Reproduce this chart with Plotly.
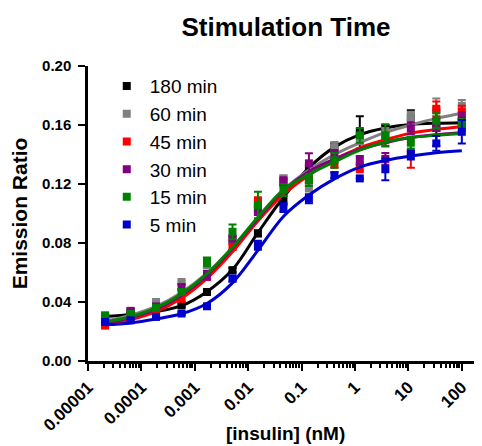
import plotly.graph_objects as go

# insulin concentrations (nM), 3-fold dilution series
conc = [0.0000209, 0.0000627, 0.000188, 0.000565, 0.00169, 0.00508, 0.0152,
        0.0457, 0.137, 0.412, 1.23, 3.70, 11.1, 33.3, 100]

# measured means / error (SEM) per stimulation time
pts_180 = [0.0300, 0.0335, 0.0340, 0.0378, 0.0468, 0.0616, 0.0865, 0.109,
           0.130, 0.145, 0.155, 0.158, 0.165, 0.158, 0.162]
err_180 = [0.001, 0.001, 0.001, 0.001, 0.001, 0.0015, 0.002, 0.003,
           0.003, 0.003, 0.011, 0.002, 0.005, 0.012, 0.003]
pts_60 = [0.028, 0.033, 0.040, 0.0536, 0.065, 0.082, 0.104, 0.1238,
          0.118, 0.145, 0.150, 0.155, 0.166, 0.170, 0.173]
err_60 = [0.001, 0.001, 0.001, 0.001, 0.002, 0.002, 0.003, 0.002,
          0.003, 0.0035, 0.003, 0.003, 0.003, 0.008, 0.004]
pts_45 = [0.024, 0.029, 0.035, 0.0423, 0.057, 0.0774, 0.108, 0.1215,
          0.124, 0.134, 0.131, 0.150, 0.141, 0.171, 0.169]
err_45 = [0.001, 0.001, 0.001, 0.002, 0.002, 0.002, 0.003, 0.002,
          0.003, 0.003, 0.003, 0.004, 0.010, 0.005, 0.004]
pts_30 = [0.027, 0.034, 0.037, 0.050, 0.0582, 0.083, 0.102, 0.1215,
          0.134, 0.140, 0.136, 0.137, 0.1577, 0.160, 0.1645]
err_30 = [0.001, 0.001, 0.001, 0.002, 0.003, 0.002, 0.003, 0.003,
          0.0068, 0.003, 0.003, 0.004, 0.004, 0.004, 0.004]
pts_15 = [0.031, 0.032, 0.036, 0.0468, 0.0672, 0.0876, 0.1057, 0.1158,
          0.1226, 0.136, 0.153, 0.153, 0.148, 0.163, 0.160]
err_15 = [0.001, 0.001, 0.001, 0.002, 0.003, 0.005, 0.009, 0.004,
          0.004, 0.005, 0.005, 0.0075, 0.004, 0.005, 0.004]
pts_5 = [0.0265, 0.0276, 0.0299, 0.0322, 0.0371, 0.0559, 0.0785, 0.104,
         0.110, 0.126, 0.1238, 0.130, 0.1396, 0.1475, 0.1554]
err_5 = [0.001, 0.001, 0.001, 0.001, 0.001, 0.002, 0.003, 0.003,
         0.003, 0.002, 0.0, 0.0075, 0.003, 0.005, 0.008]

# fitted dose-response curves at each concentration
fit_180 = [0.0302, 0.0315, 0.0335, 0.0375, 0.047, 0.062, 0.087, 0.111,
           0.131, 0.145, 0.1535, 0.158, 0.1603, 0.1612, 0.1616]
fit_60 = [0.027, 0.031, 0.037, 0.0465, 0.0595, 0.077, 0.097, 0.116,
          0.1295, 0.1400, 0.148, 0.155, 0.160, 0.1645, 0.168]
fit_45 = [0.0245, 0.028, 0.0335, 0.0425, 0.056, 0.074, 0.095, 0.113,
          0.126, 0.1365, 0.1445, 0.150, 0.1545, 0.157, 0.159]
fit_30 = [0.0255, 0.0295, 0.035, 0.0445, 0.058, 0.0765, 0.0965, 0.1155,
          0.1285, 0.137, 0.1435, 0.148, 0.1515, 0.1535, 0.155]
fit_15 = [0.0265, 0.030, 0.036, 0.0455, 0.059, 0.077, 0.0975, 0.116,
          0.1265, 0.135, 0.143, 0.1485, 0.1515, 0.153, 0.1543]
fit_5 = [0.0245, 0.0258, 0.0285, 0.032, 0.039, 0.053, 0.075, 0.098,
         0.1125, 0.1235, 0.1315, 0.136, 0.139, 0.1412, 0.1425]

names = ["180 min", "60 min", "45 min", "30 min", "15 min", "5 min"]
colors = ["#000000", "#808080", "#FF0000", "#800080", "#008000", "#0000CC"]

x_ticks = [0.00001, 0.0001, 0.001, 0.01, 0.1, 1, 10, 100]
x_ticktext = ["0.00001", "0.0001", "0.001", "0.01", "0.1", "1", "10", "100"]
y_ticks = [0.00, 0.04, 0.08, 0.12, 0.16, 0.20]

series = list(zip(
    names, colors,
    [pts_180, pts_60, pts_45, pts_30, pts_15, pts_5],
    [err_180, err_60, err_45, err_30, err_15, err_5],
    [fit_180, fit_60, fit_45, fit_30, fit_15, fit_5],
))

FONT = "Arial, Liberation Sans, sans-serif"

fig = go.Figure()
for name, color, pts, err, fit in series:
    fig.add_trace(go.Scatter(
        x=conc, y=fit, mode="lines",
        line=dict(color=color, width=3, shape="spline"),
        showlegend=False, hoverinfo="skip", legendgroup=name,
    ))
    fig.add_trace(go.Scatter(
        x=conc, y=pts, mode="markers", name=name, legendgroup=name,
        marker=dict(symbol="square", size=8, color=color),
        error_y=dict(type="data", array=err, color=color, thickness=2, width=4),
    ))

# minor ticks at 2..9 of every decade
minor_vals = [m * 10.0 ** k for k in range(-5, 3) for m in range(2, 10)]

# the page body adds an 8px offset, so the figure is 8px smaller each way
fig.update_layout(
    template="none",
    width=474, height=438,
    margin=dict(l=80, r=0, t=58, b=85, autoexpand=False),
    paper_bgcolor="white", plot_bgcolor="white",
    font=dict(family=FONT, color="black"),
    title=dict(text="Stimulation Time", x=0.5865, xanchor="center",
               y=1 - 19 / 438, yanchor="middle",
               font=dict(size=26, weight="bold", color="black")),
    legend=dict(x=0.040, y=0.996, xanchor="left", yanchor="top",
                bgcolor="rgba(0,0,0,0)", font=dict(size=19),
                itemwidth=36, traceorder="grouped", tracegroupgap=0),
    annotations=[dict(text="[insulin] (nM)", xref="paper", yref="paper",
                      x=0.5, y=-0.247, xanchor="center", yanchor="middle",
                      showarrow=False,
                      font=dict(size=19, weight="bold", color="black"))],
)
fig.update_xaxes(
    type="log", range=[-5, 2.378], automargin=False,
    tickmode="array", tickvals=x_ticks, ticktext=x_ticktext, tickangle=-45,
    ticks="outside", ticklen=7, tickwidth=2, tickcolor="black",
    tickfont=dict(size=17, weight="bold", color="black"),
    showline=True, linewidth=2.5, linecolor="black",
    showgrid=False, zeroline=False,
    minor=dict(tickmode="array", tickvals=minor_vals, ticks="outside",
               ticklen=4, tickwidth=1.5, tickcolor="black", showgrid=False),
)
fig.update_yaxes(
    range=[0, 0.2], automargin=False,
    tickmode="array", tickvals=y_ticks, tickformat=".2f",
    ticks="outside", ticklen=7, tickwidth=2, tickcolor="black",
    ticklabelstandoff=4,
    tickfont=dict(size=15, weight="bold", color="black"),
    showline=True, linewidth=2.5, linecolor="black",
    showgrid=False, zeroline=False,
    title=dict(text="Emission Ratio", font=dict(size=21, weight="bold"),
               standoff=10),
)

fig.write_html("out.html")
